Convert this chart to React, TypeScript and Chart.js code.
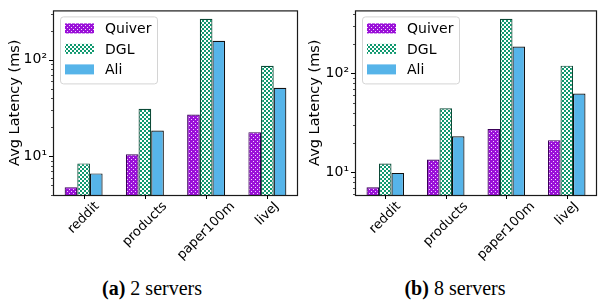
import React, { useEffect, useRef } from 'react';
import { Chart, registerables } from 'chart.js';

Chart.register(...registerables);

// ---------------- data ----------------
const categories = ['reddit', 'products', 'paper100m', 'liveJ'];
const seriesNames = ['Quiver', 'DGL', 'Ali'];

// (a) 2 servers
const quiver2 = [4.8, 10.5, 27.1, 17.8];
const dgl2 = [8.45, 31.1, 265, 86.5];
const ali2 = [6.66, 18.5, 157, 51.3];
const yRange2 = [3.98, 324];

// (b) 8 servers
const quiver8 = [7.1, 13.5, 27.5, 21.2];
const dgl8 = [12.3, 44.5, 357, 120];
const ali8 = [9.9, 23.2, 187, 62.8];
const yRange8 = [5.92, 434];

const yTickValues = [10, 100];
const yTickLabels = ['10¹', '10²'];
const yTitle = 'Avg Latency (ms)';
const captionTags = ['(a)', '(b)'];
const captionTexts = ['2 servers', '8 servers'];

// ---------------- styles ----------------
const FONT = '"DejaVu Sans", sans-serif';
const QUIVER_COLOR = '#9a10d8';
const QUIVER_DOT = '#f2d4ff';
const QUIVER_EDGE = '#3a0058';
const DGL_COLOR = '#0f996f';
const DGL_EDGE = '#0b4a37';
const ALI_COLOR = '#56b4e9';
const ALI_EDGE = '#111111';

function makeQuiverPattern(ctx: CanvasRenderingContext2D) {
  const c = document.createElement('canvas');
  c.width = 4;
  c.height = 4;
  const g = c.getContext('2d')!;
  g.fillStyle = QUIVER_COLOR;
  g.fillRect(0, 0, 4, 4);
  g.fillStyle = QUIVER_DOT;
  g.fillRect(1, 1, 1, 1);
  g.fillRect(3, 3, 1, 1);
  return ctx.createPattern(c, 'repeat')!;
}

function makeDglPattern(ctx: CanvasRenderingContext2D) {
  const c = document.createElement('canvas');
  c.width = 4;
  c.height = 4;
  const g = c.getContext('2d')!;
  g.fillStyle = DGL_COLOR;
  g.fillRect(0, 0, 4, 4);
  g.fillStyle = '#ffffff';
  g.fillRect(0, 0, 2, 2);
  g.fillRect(2, 2, 2, 2);
  return ctx.createPattern(c, 'repeat')!;
}

const decorPlugin = {
  id: 'decor',
  afterDatasetsDraw(chart: any) {
    const ctx: CanvasRenderingContext2D = chart.ctx;
    const a = chart.chartArea;
    const ys = chart.scales.y;
    const xs = chart.scales.x;
    ctx.save();
    // frame
    ctx.strokeStyle = '#1a1a1a';
    ctx.lineWidth = 1.2;
    ctx.strokeRect(a.left + 0.5, a.top + 0.5, a.right - a.left - 1, a.bottom - a.top);
    // y ticks (major + minor)
    ctx.strokeStyle = '#000';
    const minE = Math.floor(Math.log10(ys.min));
    const maxE = Math.ceil(Math.log10(ys.max));
    for (let e = minE; e <= maxE; e++) {
      for (let k = 1; k <= 9; k++) {
        const v = k * Math.pow(10, e);
        if (v < ys.min || v > ys.max) continue;
        const y = Math.round(ys.getPixelForValue(v)) + 0.5;
        const len = k === 1 ? 4 : 2;
        ctx.lineWidth = k === 1 ? 1 : 0.7;
        ctx.beginPath();
        ctx.moveTo(a.left, y);
        ctx.lineTo(a.left - len, y);
        ctx.stroke();
      }
    }
    // x ticks
    ctx.lineWidth = 1;
    const labels = chart.data.labels as string[];
    labels.forEach((_lab, i) => {
      const x = Math.round(xs.getPixelForValue(i)) + 0.5;
      ctx.beginPath();
      ctx.moveTo(x, a.bottom);
      ctx.lineTo(x, a.bottom + 4);
      ctx.stroke();
    });
    ctx.restore();
  },
  afterDraw(chart: any) {
    const ctx: CanvasRenderingContext2D = chart.ctx;
    const a = chart.chartArea;
    const xs = chart.scales.x;
    // rotated x labels (45 degrees, bounding box centred on the tick)
    ctx.save();
    ctx.font = '13px ' + FONT;
    ctx.fillStyle = '#000';
    ctx.textAlign = 'right';
    ctx.textBaseline = 'middle';
    const cs = Math.SQRT1_2;
    (chart.data.labels as string[]).forEach((lab, i) => {
      const x = xs.getPixelForValue(i);
      const w = ctx.measureText(lab).width;
      const h = 15;
      const half = (w + h) / (2 * Math.SQRT2);
      const yc = a.bottom + 4 + half;
      const ex = x + (w / 2) * cs;
      const ey = yc - (w / 2) * cs;
      ctx.save();
      ctx.translate(ex, ey);
      ctx.rotate(-Math.PI / 4);
      ctx.fillText(lab, 0, 0);
      ctx.restore();
    });
    ctx.restore();

    // legend box
    const bx = a.left + 7;
    const by = a.top + 6;
    const bw = 97;
    const bh = 67;
    ctx.save();
    ctx.beginPath();
    (ctx as any).roundRect(bx + 0.5, by + 0.5, bw, bh, 3);
    ctx.fillStyle = 'rgba(255,255,255,0.85)';
    ctx.fill();
    ctx.strokeStyle = '#d4d4d4';
    ctx.lineWidth = 1;
    ctx.stroke();
    ctx.font = '14px ' + FONT;
    ctx.textAlign = 'left';
    ctx.textBaseline = 'middle';
    chart.data.datasets.forEach((ds: any, i: number) => {
      const cy = by + 12 + i * 20.5;
      ctx.fillStyle = ds.backgroundColor;
      ctx.fillRect(bx + 5, cy - 5, 29, 10);
      ctx.fillStyle = '#000';
      ctx.fillText(ds.label, bx + 45, cy + 1);
    });
    ctx.restore();
  },
};

function buildChart(
  canvas: HTMLCanvasElement,
  values: number[][],
  range: number[],
  plotLeft: number,
  rightPad: number,
  xAxisHeight: number
) {
  const ctx = canvas.getContext('2d')!;
  const fills = [makeQuiverPattern(ctx), makeDglPattern(ctx), ALI_COLOR];
  const edges = [QUIVER_EDGE, DGL_EDGE, ALI_EDGE];
  return new Chart(canvas, {
    type: 'bar',
    data: {
      labels: categories,
      datasets: seriesNames.map((name, i) => ({
        label: name,
        data: values[i],
        backgroundColor: fills[i] as any,
        borderColor: edges[i],
        borderWidth: 1.2,
        categoryPercentage: 0.62,
        barPercentage: 1.0,
      })),
    },
    options: {
      animation: false,
      responsive: false,
      events: [],
      layout: { padding: { top: 4, right: rightPad, left: 0, bottom: 0 } },
      plugins: { legend: { display: false }, tooltip: { enabled: false } },
      scales: {
        x: {
          type: 'category',
          offset: true,
          grid: { display: false },
          border: { display: false },
          ticks: { display: false },
          afterFit: (s: any) => {
            s.height = xAxisHeight;
          },
        },
        y: {
          type: 'logarithmic',
          min: range[0],
          max: range[1],
          grid: {
            display: true,
            drawOnChartArea: false,
            drawTicks: true,
            tickLength: 4,
            color: 'rgba(0,0,0,0)',
          },
          border: { display: false },
          ticks: {
            autoSkip: false,
            padding: 2,
            color: '#000',
            font: { family: FONT, size: 14 },
            callback: (v: any) => {
              const idx = yTickValues.findIndex((t) => Math.abs(t - Number(v)) < 1e-6 * t);
              return idx >= 0 ? yTickLabels[idx] : '';
            },
          },
          title: {
            display: true,
            text: yTitle,
            color: '#000',
            font: { family: FONT, size: 14.5 },
            padding: { top: 7, bottom: 0 },
          },
          afterFit: (s: any) => {
            s.width = plotLeft;
          },
        },
      },
    },
    plugins: [decorPlugin],
  });
}

export default function App() {
  const refA = useRef<HTMLCanvasElement>(null);
  const refB = useRef<HTMLCanvasElement>(null);

  useEffect(() => {
    const c1 = buildChart(refA.current!, [quiver2, dgl2, ali2], yRange2, 53, 2, 70);
    const c2 = buildChart(refB.current!, [quiver8, dgl8, ali8], yRange8, 55, 1, 70);
    return () => {
      c1.destroy();
      c2.destroy();
    };
  }, []);

  const capStyle = (center: number): React.CSSProperties => ({
    position: 'absolute',
    left: center - 100,
    top: 277,
    width: 200,
    textAlign: 'center',
    fontFamily: '"Liberation Serif", serif',
    fontSize: 20,
    lineHeight: '22px',
    color: '#000',
    whiteSpace: 'nowrap',
  });

  return (
    <div style={{ position: 'absolute', left: 0, top: 0, width: 598, height: 300, background: '#fff', overflow: 'hidden' }}>
      <canvas ref={refA} width={300} height={265} style={{ position: 'absolute', left: 0, top: 0, width: 300, height: 265 }} />
      <canvas ref={refB} width={298} height={265} style={{ position: 'absolute', left: 300, top: 0, width: 298, height: 265 }} />
      <div style={capStyle(152)}>
        <b>{captionTags[0]}</b> {captionTexts[0]}
      </div>
      <div style={capStyle(455)}>
        <b>{captionTags[1]}</b> {captionTexts[1]}
      </div>
    </div>
  );
}
